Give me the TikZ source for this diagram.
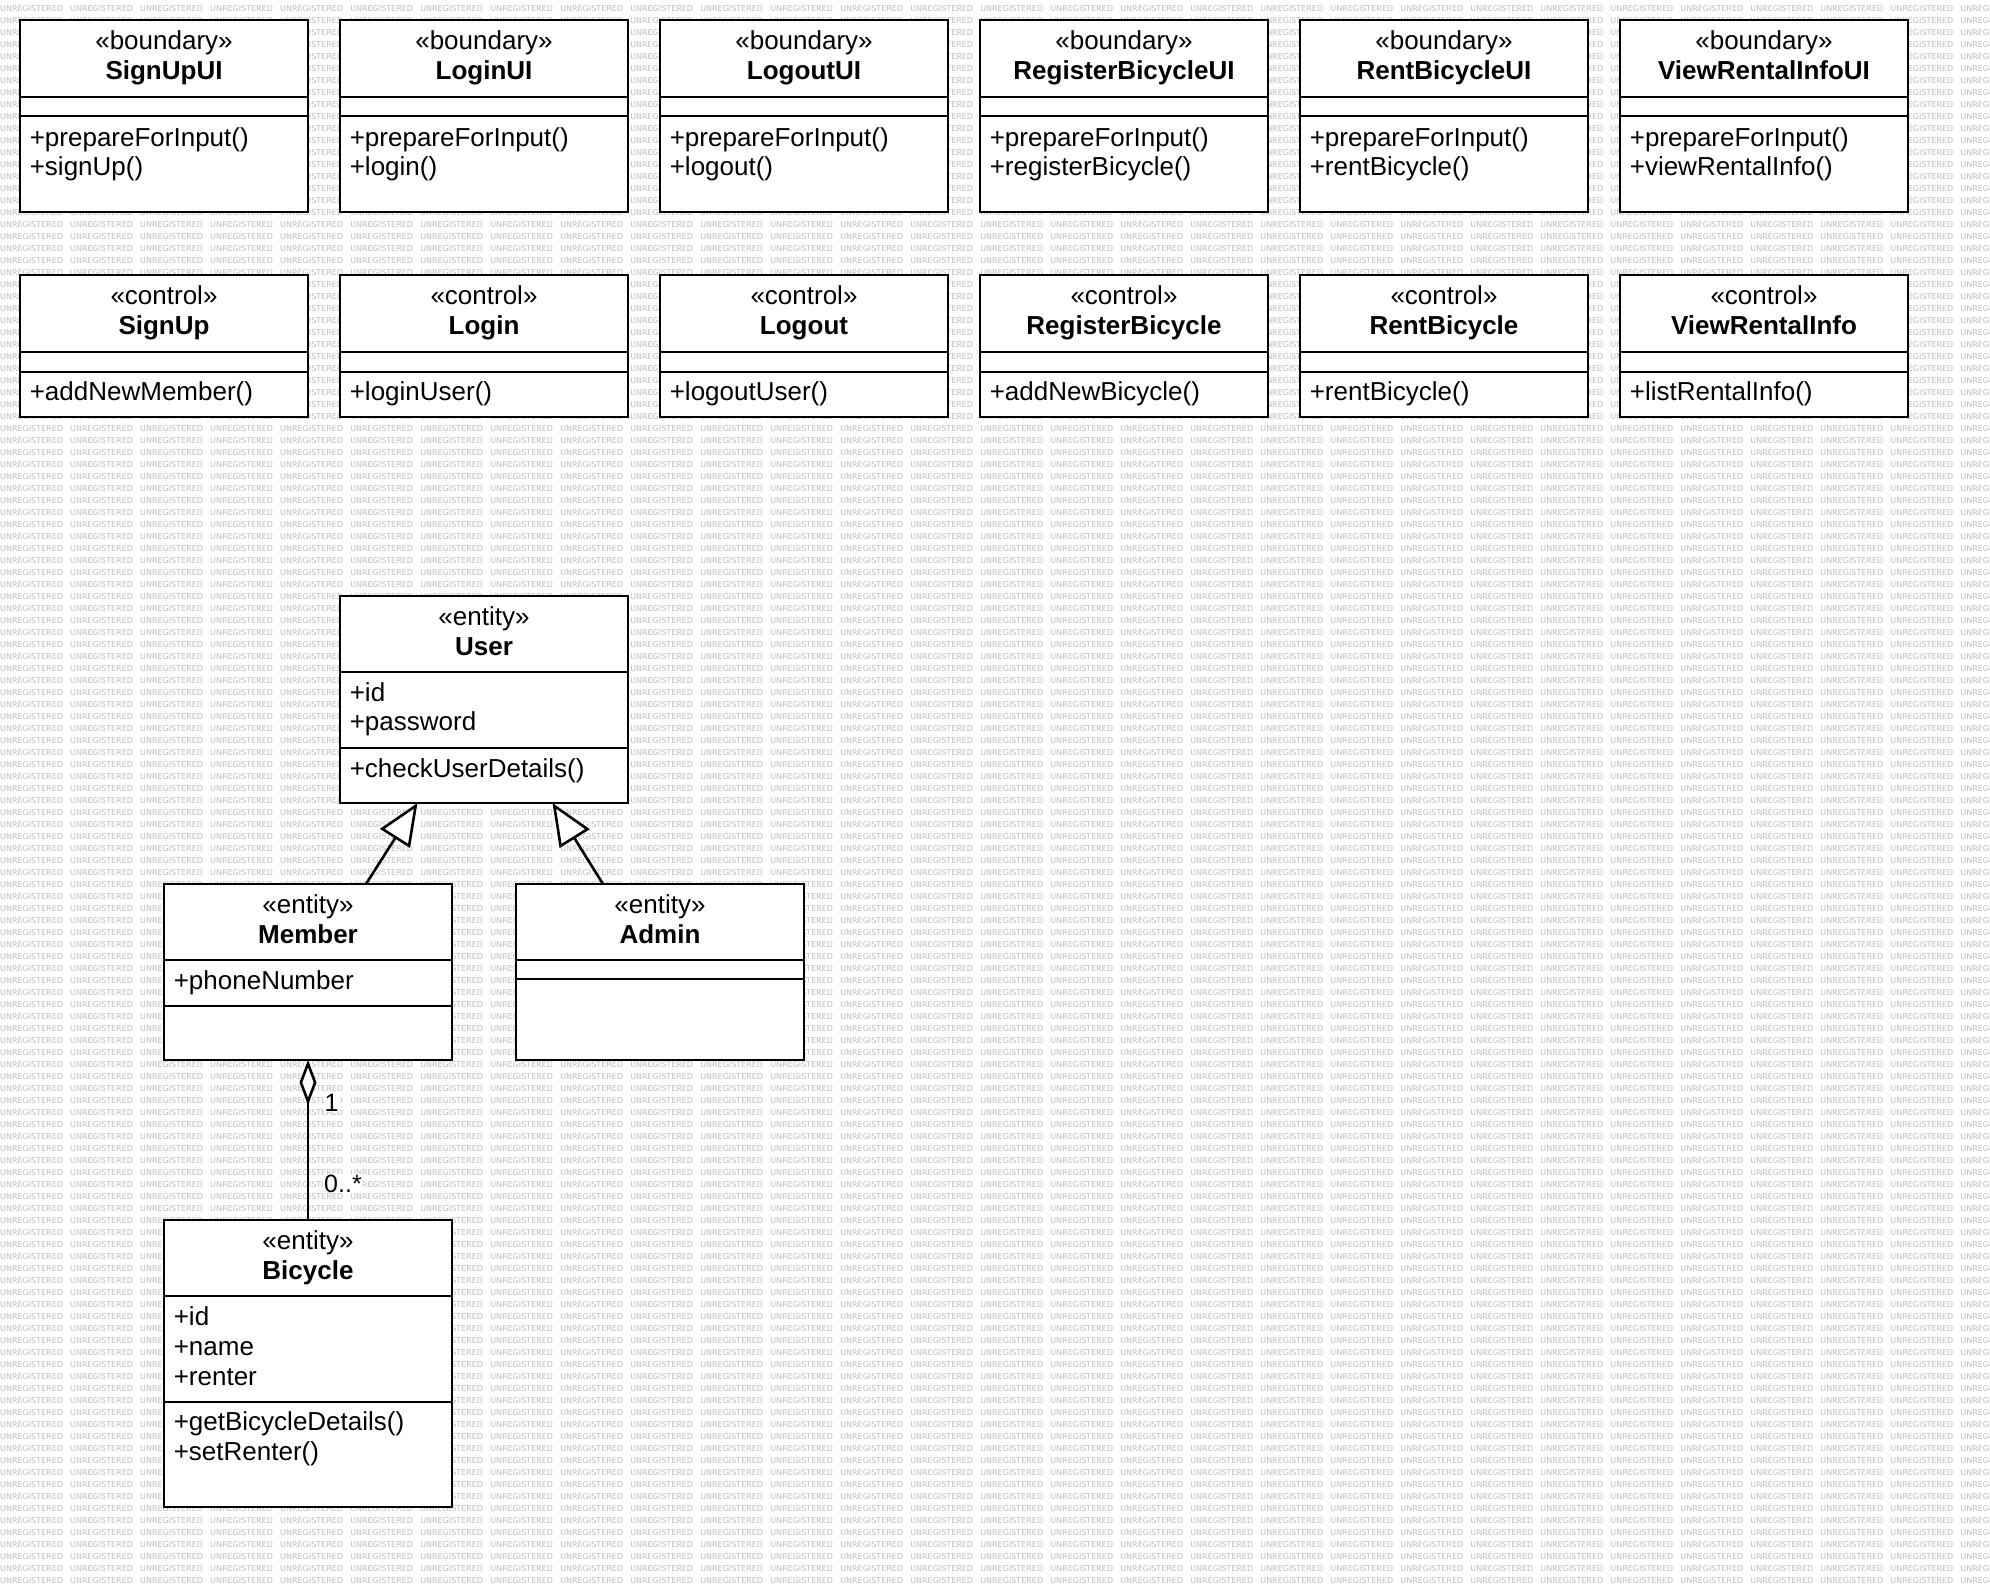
\documentclass[tikz,border=0pt]{standalone}
\usepackage{fontspec}
\setmainfont{Liberation Sans}
\newfontfamily\wmfont{DejaVu Sans}
\usetikzlibrary{arrows.meta}
\newcommand\wmword{\makebox[70pt][l]{UNREGISTERED}}
\newcommand\wmfive{\wmword\wmword\wmword\wmword\wmword}
\newcommand\wmline{\wmfive\wmfive\wmfive\wmfive\wmfive\wmfive}
\tikzset{
  umlbox/.style={draw, line width=2.6pt, fill=white, minimum width=288pt, inner sep=0pt, outer sep=0pt},
  umlsep/.style={line width=2.6pt},
  stereo/.style={anchor=base, inner sep=0pt, font=\fontsize{26}{30}\selectfont},
  cname/.style={anchor=base, inner sep=0pt, font=\fontsize{26}{30}\selectfont\bfseries},
  memb/.style={anchor=base west, inner sep=0pt, font=\fontsize{26}{30}\selectfont},
  gen/.style={line width=2.6pt, -{Triangle[length=42pt,width=35pt,fill=white]}},
  agg/.style={line width=2.6pt, {Diamond[length=45pt,width=17pt,fill=white]}-},
  mult/.style={fill=white, inner sep=1pt, anchor=base west, font=\fontsize{25}{29}\selectfont},
  wm/.style={anchor=west, inner sep=0pt, font=\wmfont\fontsize{8}{9}\selectfont, text=black!26}
}
% #1 name, #2 left, #3 top, #4 bottom, #5 sep1, #6 sep2, #7 stereotype, #8 class name
\newcommand\umlclass[8]{%
  \node[umlbox, minimum height={#4pt-#3pt}, anchor=north west] (#1) at (#2,#3) {};
  \draw[umlsep] (#1.west |- #2,#5) -- (#1.east |- #2,#5);
  \draw[umlsep] (#1.west |- #2,#6) -- (#1.east |- #2,#6);
  \node[stereo] (#1-st) at ([yshift=-29.5pt]#1.north) {«#7»};
  \node[cname] (#1-nm) at ([yshift=-59.5pt]#1.north) {#8};
}
% #1 name, #2 left of class, #3 baseline, #4 text
\newcommand\mem[4]{\node[memb] (#1) at ({#2+9.6},#3) {#4};}
\begin{document}
\begin{tikzpicture}[x=1pt, y=-1pt]
\path[use as bounding box, fill=white] (0,0) rectangle (1990,1588);
\begin{scope}
  \clip (0,0) rectangle (1990,1588);
  \foreach \k in {0,...,131} { \node[wm] (wm\k) at (0,{9+12*\k}) {\wmline}; }
\end{scope}

% boundary row
\umlclass{signupui}{20}{20}{212}{97}{116}{boundary}{SignUpUI}
\mem{signupui-m1}{20}{146}{+prepareForInput()}
\mem{signupui-m2}{20}{175.5}{+signUp()}
\umlclass{loginui}{340}{20}{212}{97}{116}{boundary}{LoginUI}
\mem{loginui-m1}{340}{146}{+prepareForInput()}
\mem{loginui-m2}{340}{175.5}{+login()}
\umlclass{logoutui}{660}{20}{212}{97}{116}{boundary}{LogoutUI}
\mem{logoutui-m1}{660}{146}{+prepareForInput()}
\mem{logoutui-m2}{660}{175.5}{+logout()}
\umlclass{regbikeui}{980}{20}{212}{97}{116}{boundary}{RegisterBicycleUI}
\mem{regbikeui-m1}{980}{146}{+prepareForInput()}
\mem{regbikeui-m2}{980}{175.5}{+registerBicycle()}
\umlclass{rentbikeui}{1300}{20}{212}{97}{116}{boundary}{RentBicycleUI}
\mem{rentbikeui-m1}{1300}{146}{+prepareForInput()}
\mem{rentbikeui-m2}{1300}{175.5}{+rentBicycle()}
\umlclass{viewinfoui}{1620}{20}{212}{97}{116}{boundary}{ViewRentalInfoUI}
\mem{viewinfoui-m1}{1620}{146}{+prepareForInput()}
\mem{viewinfoui-m2}{1620}{175.5}{+viewRentalInfo()}

% control row
\umlclass{signup}{20}{275}{417}{352}{372}{control}{SignUp}
\mem{signup-m1}{20}{400}{+addNewMember()}
\umlclass{login}{340}{275}{417}{352}{372}{control}{Login}
\mem{login-m1}{340}{400}{+loginUser()}
\umlclass{logout}{660}{275}{417}{352}{372}{control}{Logout}
\mem{logout-m1}{660}{400}{+logoutUser()}
\umlclass{regbike}{980}{275}{417}{352}{372}{control}{RegisterBicycle}
\mem{regbike-m1}{980}{400}{+addNewBicycle()}
\umlclass{rentbike}{1300}{275}{417}{352}{372}{control}{RentBicycle}
\mem{rentbike-m1}{1300}{400}{+rentBicycle()}
\umlclass{viewinfo}{1620}{275}{417}{352}{372}{control}{ViewRentalInfo}
\mem{viewinfo-m1}{1620}{400}{+listRentalInfo()}

% entities
\umlclass{user}{340}{596}{803}{672}{748}{entity}{User}
\mem{user-a1}{340}{701}{+id}
\mem{user-a2}{340}{730}{+password}
\mem{user-m1}{340}{777}{+checkUserDetails()}

\umlclass{member}{164}{884}{1060}{960}{1006}{entity}{Member}
\mem{member-a1}{164}{989}{+phoneNumber}

\umlclass{admin}{516}{884}{1060}{960}{979}{entity}{Admin}

\umlclass{bicycle}{164}{1220}{1507}{1296}{1402}{entity}{Bicycle}
\mem{bicycle-a1}{164}{1325}{+id}
\mem{bicycle-a2}{164}{1355}{+name}
\mem{bicycle-a3}{164}{1385}{+renter}
\mem{bicycle-m1}{164}{1430}{+getBicycleDetails()}
\mem{bicycle-m2}{164}{1460}{+setRenter()}

% connectors
\draw[gen] ([xshift=58pt]member.north) -- ([xshift=-66.5pt]user.south);
\draw[gen] ([xshift=-57pt]admin.north) -- ([xshift=68.5pt]user.south);
\draw[agg] (member.south) -- (bicycle.north);
\node[mult] (mult1) at (323.5,1111) {1};
\node[mult] (mult2) at (323,1192) {0..*};
\end{tikzpicture}
\end{document}
